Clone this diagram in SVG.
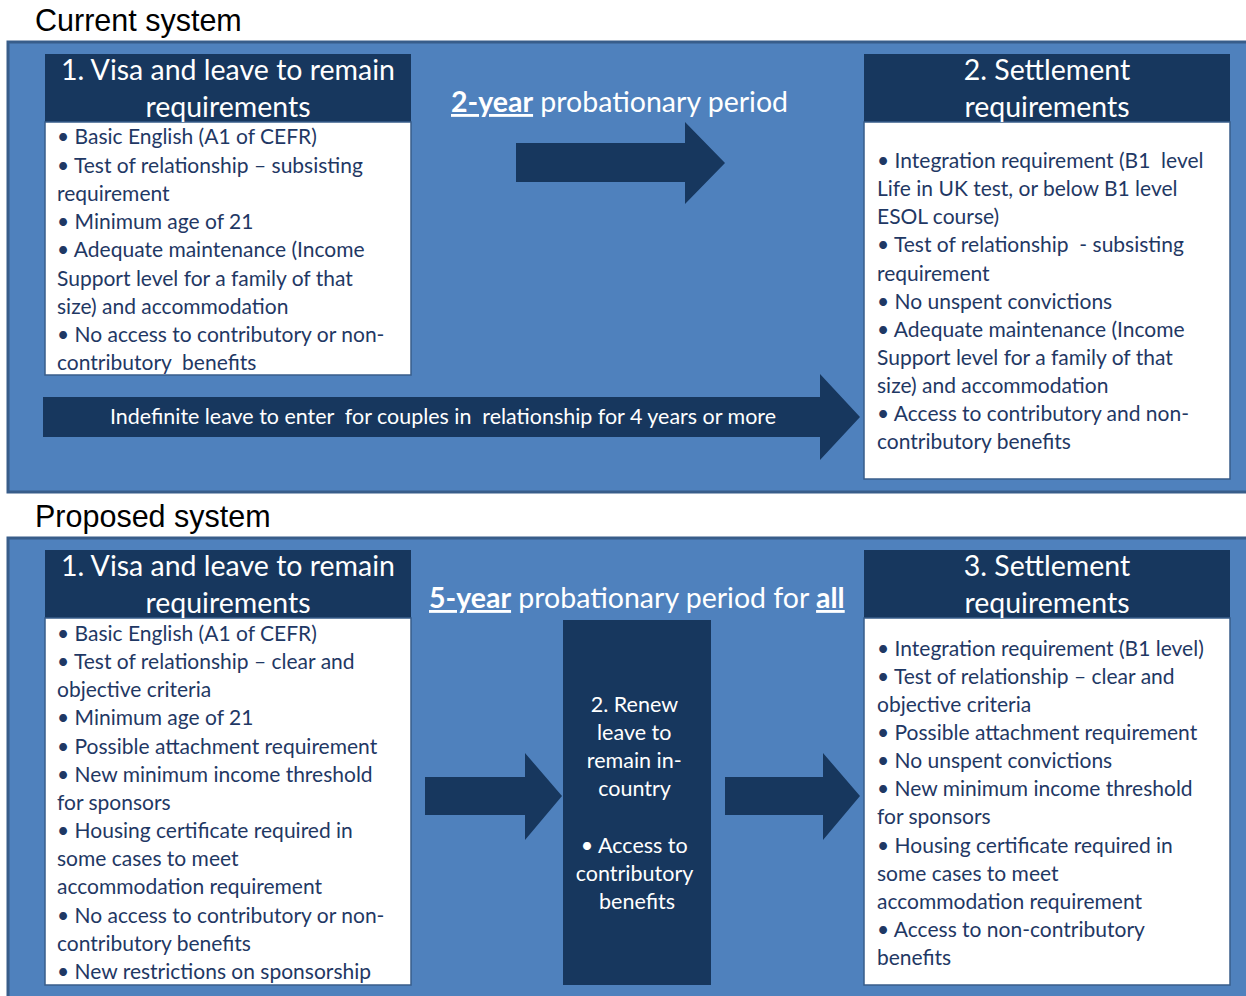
<svg xmlns="http://www.w3.org/2000/svg" width="1246" height="996" viewBox="0 0 1246 996">
<style>
.title{font-family:"Liberation Sans",Arial,sans-serif;font-size:30.5px;fill:#000}
.panel{fill:#4f81bd;stroke:#385d8a;stroke-width:3}
.head{fill:#17375e}
.body{fill:#fff;stroke:#385d8a;stroke-width:1.5}
.ht{font-family:Lato,"Open Sans",sans-serif;font-size:28.5px;fill:#fff;text-anchor:middle}
.bt{font-family:Lato,"Open Sans",sans-serif;font-size:21px;fill:#1f3864}
.wt{font-family:Lato,"Open Sans",sans-serif;font-size:21.5px;fill:#fff}
.pt{font-family:Lato,"Open Sans",sans-serif;font-size:28.5px;fill:#fff}
.arrow{fill:#17375e}
.b{font-weight:bold;text-decoration:underline}
</style>
<rect width="1246" height="996" fill="#fff"/>
<text class="title" x="35" y="31">Current system</text>
<rect class="panel" x="8" y="42" width="1240" height="450"/>
<text class="title" x="35" y="527">Proposed system</text>
<rect class="panel" x="8" y="538" width="1240" height="460"/>

<g id="connectors">
<polygon class="arrow" points="516,143 685,143 685,122 725,163 685,204 685,182 516,182"/>
<polygon class="arrow" points="43,397 820,397 820,374 860,417 820,460 820,437 43,437"/>
<polygon class="arrow" points="425,777 525,777 525,753 562,796 525,840 525,815 425,815"/>
<polygon class="arrow" points="725,777 823,777 823,753 860,796 823,840 823,815 725,815"/>
</g>
<text class="wt" x="443" y="424" text-anchor="middle" textLength="666" lengthAdjust="spacingAndGlyphs">Indefinite leave to enter&#160; for couples in&#160; relationship for 4 years or more</text>
<text class="pt" x="451" y="112"><tspan class="b">2-year</tspan> probationary period</text>
<text class="pt" x="429" y="608"><tspan class="b">5-year</tspan> probationary period for <tspan class="b">all</tspan></text>

<g id="cur-visa">
<rect class="head" x="45" y="54" width="366" height="68"/>
<rect class="body" x="45" y="122" width="366" height="253"/>
<text class="ht" x="228" y="80">1. Visa and leave to remain</text>
<text class="ht" x="228" y="117">requirements</text>
<text class="bt" x="57">
<tspan x="57" y="144">• Basic English (A1 of CEFR)</tspan>
<tspan x="57" y="173">• Test of relationship – subsisting</tspan>
<tspan x="57" y="201">requirement</tspan>
<tspan x="57" y="229">• Minimum age of 21</tspan>
<tspan x="57" y="257">• Adequate maintenance (Income</tspan>
<tspan x="57" y="286">Support level for a family of that</tspan>
<tspan x="57" y="314">size) and accommodation</tspan>
<tspan x="57" y="342">• No access to contributory or non-</tspan>
<tspan x="57" y="370">contributory&#160; benefits</tspan>
</text>
</g>

<g id="cur-settle">
<rect class="head" x="864" y="54" width="366" height="68"/>
<rect class="body" x="864" y="122" width="366" height="357"/>
<text class="ht" x="1047" y="80">2. Settlement</text>
<text class="ht" x="1047" y="117">requirements</text>
<text class="bt">
<tspan x="877" y="168">• Integration requirement (B1&#160; level</tspan>
<tspan x="877" y="196">Life in UK test, or below B1 level</tspan>
<tspan x="877" y="224">ESOL course)</tspan>
<tspan x="877" y="252">• Test of relationship&#160; - subsisting</tspan>
<tspan x="877" y="281">requirement</tspan>
<tspan x="877" y="309">• No unspent convictions</tspan>
<tspan x="877" y="337">• Adequate maintenance (Income</tspan>
<tspan x="877" y="365">Support level for a family of that</tspan>
<tspan x="877" y="393">size) and accommodation</tspan>
<tspan x="877" y="421">• Access to contributory and non-</tspan>
<tspan x="877" y="449">contributory benefits</tspan>
</text>
</g>

<g id="prop-visa">
<rect class="head" x="45" y="550" width="366" height="68"/>
<rect class="body" x="45" y="618" width="366" height="367"/>
<text class="ht" x="228" y="576">1. Visa and leave to remain</text>
<text class="ht" x="228" y="613">requirements</text>
<text class="bt">
<tspan x="57" y="641">• Basic English (A1 of CEFR)</tspan>
<tspan x="57" y="669">• Test of relationship – clear and</tspan>
<tspan x="57" y="697">objective criteria</tspan>
<tspan x="57" y="725">• Minimum age of 21</tspan>
<tspan x="57" y="754">• Possible attachment requirement</tspan>
<tspan x="57" y="782">• New minimum income threshold</tspan>
<tspan x="57" y="810">for sponsors</tspan>
<tspan x="57" y="838">• Housing certificate required in</tspan>
<tspan x="57" y="866">some cases to meet</tspan>
<tspan x="57" y="894">accommodation requirement</tspan>
<tspan x="57" y="923">• No access to contributory or non-</tspan>
<tspan x="57" y="951">contributory benefits</tspan>
<tspan x="57" y="979">• New restrictions on sponsorship</tspan>
</text>
</g>

<g id="prop-renew">
<rect class="head" x="563" y="620" width="148" height="365"/>
<text class="wt" text-anchor="middle">
<tspan x="637" y="712">2. Renew</tspan>
<tspan x="637" y="740">leave to</tspan>
<tspan x="637" y="768">remain in-</tspan>
<tspan x="637" y="796">country</tspan>
<tspan x="637" y="853">• Access to</tspan>
<tspan x="637" y="881">contributory</tspan>
<tspan x="637" y="909">benefits</tspan>
</text>
</g>

<g id="prop-settle">
<rect class="head" x="864" y="550" width="366" height="68"/>
<rect class="body" x="864" y="618" width="366" height="367"/>
<text class="ht" x="1047" y="576">3. Settlement</text>
<text class="ht" x="1047" y="613">requirements</text>
<text class="bt">
<tspan x="877" y="656">• Integration requirement (B1 level)</tspan>
<tspan x="877" y="684">• Test of relationship – clear and</tspan>
<tspan x="877" y="712">objective criteria</tspan>
<tspan x="877" y="740">• Possible attachment requirement</tspan>
<tspan x="877" y="768">• No unspent convictions</tspan>
<tspan x="877" y="796">• New minimum income threshold</tspan>
<tspan x="877" y="824">for sponsors</tspan>
<tspan x="877" y="853">• Housing certificate required in</tspan>
<tspan x="877" y="881">some cases to meet</tspan>
<tspan x="877" y="909">accommodation requirement</tspan>
<tspan x="877" y="937">• Access to non-contributory</tspan>
<tspan x="877" y="965">benefits</tspan>
</text>
</g>
</svg>
